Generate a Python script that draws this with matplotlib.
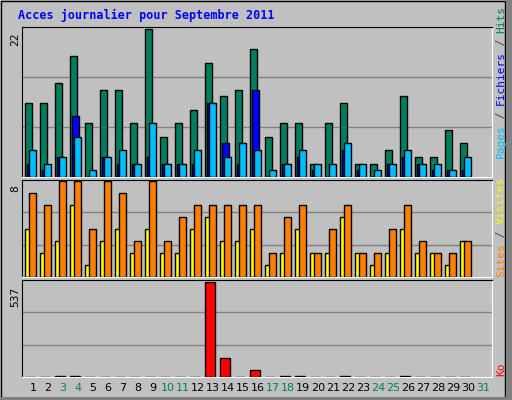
import matplotlib
matplotlib.use("Agg")
import matplotlib.pyplot as plt
import numpy as np

# daily stats, September 2011
days     = list(range(1, 31))
hits     = [11, 11, 14, 18, 8, 13, 13, 8, 22, 6, 8, 10, 17, 12, 13, 19, 6, 8, 8, 2, 8, 11, 2, 2, 4, 12, 3, 3, 7, 5]
fichiers = [2, 1, 3, 9, 0, 3, 2, 2, 3, 2, 2, 2, 11, 5, 2, 13, 0, 2, 3, 1, 0, 4, 1, 0, 2, 3, 2, 1, 1, 1]
pages    = [4, 2, 3, 6, 1, 3, 4, 2, 8, 2, 2, 4, 11, 3, 5, 4, 1, 2, 4, 2, 2, 5, 2, 1, 2, 4, 2, 2, 1, 3]
visites  = [7, 6, 8, 8, 4, 8, 7, 3, 8, 3, 5, 6, 6, 6, 6, 6, 2, 5, 6, 2, 4, 6, 2, 2, 4, 6, 3, 2, 2, 3]
sites    = [4, 2, 3, 6, 1, 3, 4, 2, 4, 2, 2, 4, 5, 3, 3, 4, 1, 2, 4, 2, 2, 5, 2, 1, 2, 4, 2, 2, 1, 3]
ko       = [1, 1, 8, 8, 1, 1, 1, 1, 1, 1, 1, 1, 537, 106, 1, 37, 1, 8, 8, 1, 1, 8, 1, 1, 1, 8, 1, 1, 1, 1]
label_days = list(range(1, 32))
weekend    = [3, 4, 10, 11, 17, 18, 24, 25, 31]

BG = "#c0c0c0"
C_HITS, C_FICH, C_PAGES = "#007f5f", "#0000ff", "#00bfff"
C_SITES, C_VIS, C_KO = "#ffff00", "#ff8000", "#ff0000"

fig = plt.figure(figsize=(5.12, 4.0), dpi=100)
fig.set_facecolor(BG)
fig.patches.append(plt.Rectangle((0.001, 0.0), 0.985, 0.997, transform=fig.transFigure,
                                 fill=False, edgecolor="black", lw=1))
fig.patches.append(plt.Rectangle((0.988, 0.0), 0.012, 1.0, transform=fig.transFigure,
                                 color="#808080", lw=0))
fig.patches.append(plt.Rectangle((0.0, 0.0), 1.0, 0.008, transform=fig.transFigure,
                                 color="#808080", lw=0))

x = np.array(days, dtype=float)
W = 0.47
left, width = 22 / 512, 470 / 512
axTop = fig.add_axes([left, 1 - 177 / 400, width, 150 / 400])
axMid = fig.add_axes([left, 1 - 277 / 400, width, 97 / 400])
axBot = fig.add_axes([left, 1 - 377 / 400, width, 97 / 400])

kw = dict(align="edge", edgecolor="black", linewidth=1, zorder=3)
axTop.bar(x, hits, W, color=C_HITS, **kw)
axTop.bar(x + 0.15, fichiers, W, color=C_FICH, **kw)
axTop.bar(x + 0.29, pages, W, color=C_PAGES, **kw)
axTop.set_ylim(0, 22.3)

axMid.bar(x, sites, 0.3, color=C_SITES, **kw)
axMid.bar(x + 0.29, visites, W, color=C_VIS, **kw)
axMid.set_ylim(0, 8.1)

axBot.bar(x, ko, W * 1.35, color=C_KO, **kw)
axBot.set_ylim(0, 550)

for ax in [axTop, axMid, axBot]:
    ax.set_facecolor(BG)
    ax.set_xlim(0.8, 32.13)
    ax.set_xticks([])
    ax.set_yticks([])
    for f in (1 / 3, 2 / 3):
        ax.axhline(ax.get_ylim()[1] * f, color="#808080", lw=1, zorder=1)
    ax.spines["top"].set_color("black")
    ax.spines["left"].set_color("black")
    ax.spines["right"].set_color("white")
    ax.spines["bottom"].set_color("white")

mono = "DejaVu Sans Mono"
fig.text(18 / 512, 1 - 15 / 400, "Acces journalier pour Septembre 2011", color="#0000ff",
         fontsize=8.5, fontweight="bold", family=mono, va="center")
for ypix, txt in [(33, "22"), (185, "8"), (287, "537")]:
    fig.text(15 / 512, 1 - ypix / 400, txt, rotation=90, fontsize=8, family=mono,
             ha="center", va="top")

# right-hand legends (rotated, coloured pieces)
def vlabel(ybottom, parts):
    y = 1 - ybottom / 400
    for txt, col in parts:
        t = fig.text(501 / 512, y, txt, rotation=90, fontsize=8, family=mono, color=col,
                     ha="center", va="bottom")
        y += len(txt) * 6.6 / 400

vlabel(158, [("Pages", C_PAGES), (" / ", "#404040"), ("Fichiers", C_FICH),
             (" / ", "#404040"), ("Hits", C_HITS)])
vlabel(277, [("Sites", C_VIS), (" / ", "#404040"), ("Visites", C_SITES)])
vlabel(376, [("Ko", C_KO)])

for d in label_days:
    px = 25 + 15.0 * (d - 1) + 8
    fig.text(px / 512, 1 - 388 / 400, str(d), fontsize=8,
             color=C_HITS if d in weekend else "black", ha="center", va="center")

fig.savefig("out.png", dpi=100, facecolor=BG)
